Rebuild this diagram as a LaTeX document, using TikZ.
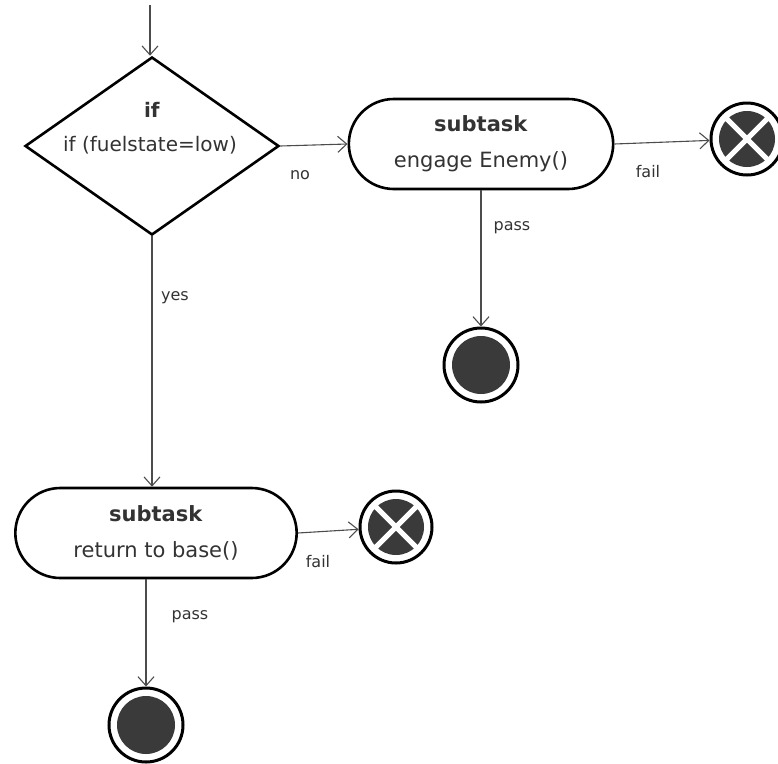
\documentclass[tikz,border=0pt]{standalone}
\usepackage{fontspec}
\setmainfont{DejaVu Sans}
\usetikzlibrary{shapes.geometric,shapes.misc,arrows.meta}
\definecolor{ink}{HTML}{333333}
\definecolor{disk}{HTML}{3A3A3A}
\begin{document}
\begin{tikzpicture}[x=1pt,y=-1pt,
  flow/.style={draw=black!70, line width=1.1pt,
    -{Straight Barb[length=9pt,width=16pt,line width=1.1pt]}},
  decision/.style={diamond, draw, line width=2.6pt, fill=white,
    minimum width=254pt, minimum height=178pt, inner sep=0pt},
  task/.style={rounded rectangle, draw, line width=2.6pt, fill=white,
    minimum width=271pt, minimum height=90pt, align=center, text=ink,
    font=\fontsize{21}{36}\selectfont},
  done/.style={circle, draw, line width=3pt, fill=white, minimum size=74pt,
    inner sep=0pt,
    path picture={\fill[disk] (path picture bounding box.center) circle (29pt);}},
  failed/.style={circle, draw, line width=3pt, fill=white, minimum size=72pt,
    inner sep=0pt,
    path picture={
      \fill[disk] (path picture bounding box.center) circle (28pt);
      \draw[white, line width=5pt]
        (path picture bounding box.center) ++(45:32pt) -- ++(225:64pt)
        (path picture bounding box.center) ++(135:32pt) -- ++(315:64pt);}},
  tag/.style={text=ink, font=\fontsize{16}{18}\selectfont, inner sep=1pt},
  cond/.style={text=ink, font=\fontsize{20}{22}\selectfont, inner sep=0pt}
]
\useasboundingbox (0,0) rectangle (778,763);

% nodes
\coordinate (start) at (150,5);
\node[decision] (dec) at (152,146) {};
\node[cond] (decname) at (152,110) {\textbf{if}};
\node[cond] (deccond) at (150,145) {if (fuelstate=low)};

\node[task, minimum width=271pt] (t1) at (481,144) {\textbf{subtask}\\engage Enemy()};
\node[failed] (x1) at (747,139) {};
\node[done] (e1) at (481,365) {};

\node[task, minimum width=288pt] (t2) at (156,533) {\textbf{subtask}\\return to base()};
\node[failed] (x2) at (396,527) {};
\node[done] (e2) at (146,725) {};

% connectors
\draw[flow] (start) -- (start |- dec.north);
\draw[flow] (dec.east) -- (t1.west);
\draw[flow] (t1.east) -- (x1);
\draw[flow] (t1.south) -- (e1.north);
\draw[flow] (dec.south) -- (dec.south |- t2.north);
\draw[flow] (t2.east) -- (x2);
\draw[flow] (e2 |- t2.south) -- (e2.north);

% labels
\node[tag] (lno) at (300,175) {no};
\node[tag] (lfail1) at (648,172) {fail};
\node[tag] (lpass1) at (512,228) {pass};
\node[tag] (lyes) at (175,298) {yes};
\node[tag] (lfail2) at (318,562) {fail};
\node[tag] (lpass2) at (190,617) {pass};
\end{tikzpicture}
\end{document}
